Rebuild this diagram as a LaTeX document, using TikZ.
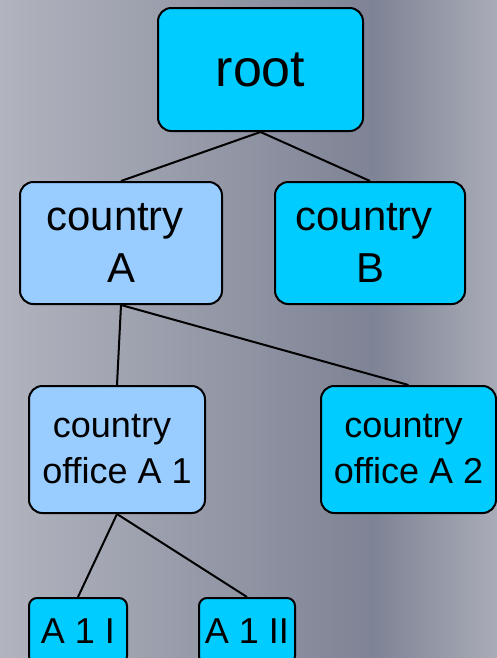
\documentclass[tikz,border=0pt]{standalone}
\usepackage{fontspec}
\setmainfont{Liberation Sans}
\definecolor{bgL}{HTML}{B1B4BE}
\definecolor{bgD}{HTML}{7E8395}
\definecolor{bgR}{HTML}{A9ACB7}
\definecolor{cyanbox}{HTML}{00CCFF}
\definecolor{lightbox}{HTML}{99CCFF}
\tikzset{
  box/.style={draw=black, line width=1.5pt, rounded corners=10pt, inner sep=0pt, align=center, text=black},
  bigfont/.style={font=\fontsize{39pt}{47pt}\selectfont},
  midfont/.style={font=\fontsize{31.4pt}{39pt}\selectfont},
  smallfont/.style={font=\fontsize{27pt}{34.5pt}\selectfont},
  link/.style={draw=black, line width=1.5pt},
}
\begin{document}
\begin{tikzpicture}[x=0.75pt, y=-0.75pt]
\useasboundingbox (0,0) rectangle (497,658);
\shade[left color=bgL, right color=bgD] (0,0) rectangle (373,658);
\shade[left color=bgD, right color=bgR] (373,0) rectangle (497,658);

\node[box, bigfont, fill=cyanbox, minimum width=205*0.75pt, minimum height=123*0.75pt] (root) at (260.5,69.5) {root};
\node[box, midfont, fill=lightbox, minimum width=202*0.75pt, minimum height=122*0.75pt] (cA) at (121,243) {country\kern0.278em\\A};
\node[box, midfont, fill=cyanbox, minimum width=190*0.75pt, minimum height=122*0.75pt] (cB) at (370,243) {country\kern0.278em\\B};
\node[box, smallfont, fill=lightbox, minimum width=176*0.75pt, minimum height=127*0.75pt] (oA1) at (117,449.5) {country\kern0.278em\\office A 1};
\node[box, smallfont, fill=cyanbox, minimum width=175*0.75pt, minimum height=127*0.75pt] (oA2) at (408.5,449.5) {country\kern0.278em\\office A 2};
\node[box, smallfont, fill=cyanbox, rounded corners=6pt, minimum width=98*0.75pt, minimum height=66*0.75pt] (a1i) at (78,631) {A 1 I};
\node[box, smallfont, fill=cyanbox, rounded corners=6pt, minimum width=96*0.75pt, minimum height=66*0.75pt] (a1ii) at (247,631) {A 1 II};

\draw[link] (root.south) -- (cA.north);
\draw[link] (root.south) -- (cB.north);
\draw[link] (cA.south) -- (oA1.north);
\draw[link] (cA.south) -- (oA2.north);
\draw[link] (oA1.south) -- (a1i.north);
\draw[link] (oA1.south) -- (a1ii.north);
\end{tikzpicture}
\end{document}
